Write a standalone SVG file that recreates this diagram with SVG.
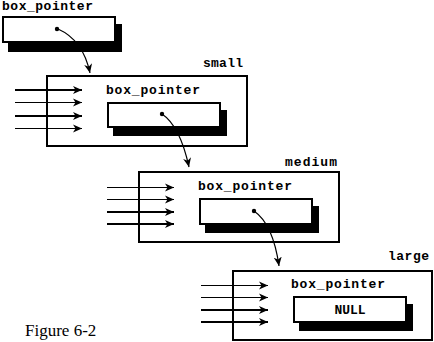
<svg xmlns="http://www.w3.org/2000/svg" width="434" height="342" viewBox="0 0 434 342">
<style>
.lbl{font-family:"Liberation Mono","DejaVu Sans Mono",monospace;font-weight:bold;font-size:13px;fill:#000}
.cont{fill:#fff;stroke:#000;stroke-width:2}
.box{fill:#fff;stroke:#000;stroke-width:2}
.sh{fill:#000}
.thin{stroke:#000;stroke-width:1;fill:none;marker-end:url(#ah)}
.thick{stroke:#000;stroke-width:2;fill:none;marker-end:url(#ah)}
.cur{stroke:#000;stroke-width:1.2;fill:none;marker-end:url(#ah)}
</style>
<defs>
<marker id="ah" markerUnits="userSpaceOnUse" markerWidth="11" markerHeight="9" refX="9" refY="4.5" orient="auto">
<path d="M0,0.5 L9,4.5 L0,8.5 L2.5,4.5 z" fill="#000"/>
</marker>
</defs>
<rect width="434" height="342" fill="#fff"/>
<g id="top">
<text class="lbl" x="2" y="10" font-size="12" textLength="91">box_pointer</text>
<rect class="sh" x="8" y="24" width="114" height="28"/>
<rect class="box" x="3" y="17" width="112" height="25"/>
<circle cx="57" cy="29" r="2.2"/>
</g>
<g id="small">
<text class="lbl" x="203" y="67" textLength="40">small</text>
<rect class="cont" x="47" y="76" width="200" height="70"/>
<text class="lbl" x="106" y="94" textLength="94">box_pointer</text>
<rect class="sh" x="113" y="110" width="114" height="26"/>
<rect class="box" x="108" y="103" width="112" height="24"/>
<circle cx="162" cy="114" r="2.2"/>
</g>
<g id="medium">
<text class="lbl" x="285" y="166" textLength="52">medium</text>
<rect class="cont" x="139" y="172" width="200" height="70"/>
<text class="lbl" x="198" y="190" textLength="94">box_pointer</text>
<rect class="sh" x="205" y="206" width="114" height="27"/>
<rect class="box" x="200" y="199" width="112" height="25"/>
<circle cx="254" cy="211" r="2.2"/>
</g>
<g id="large">
<text class="lbl" x="388" y="260" textLength="41">large</text>
<rect class="cont" x="233" y="271" width="199" height="69"/>
<text class="lbl" x="291" y="288" textLength="94">box_pointer</text>
<rect class="sh" x="299" y="304" width="114" height="27"/>
<rect class="box" x="294" y="297" width="112" height="25"/>
<text class="lbl" x="350" y="314" text-anchor="middle">NULL</text>
</g>
<g id="connectors">
<path class="cur" d="M58,29 Q83,40 90,73"/>
<path class="cur" d="M162,114 Q180,126 189,167"/>
<path class="cur" d="M254,211 Q273,224 279,266"/>
<line class="thick" x1="15" y1="90" x2="82" y2="90"/>
<line class="thin" x1="15" y1="102.5" x2="82" y2="102.5"/>
<line class="thick" x1="15" y1="116" x2="82" y2="116"/>
<line class="thin" x1="15" y1="128.5" x2="82" y2="128.5"/>
<line class="thin" x1="107" y1="187.5" x2="174" y2="187.5"/>
<line class="thin" x1="107" y1="199.5" x2="174" y2="199.5"/>
<line class="thick" x1="107" y1="212" x2="174" y2="212"/>
<line class="thick" x1="107" y1="224" x2="174" y2="224"/>
<line class="thin" x1="201" y1="285.5" x2="268" y2="285.5"/>
<line class="thin" x1="201" y1="297.5" x2="268" y2="297.5"/>
<line class="thick" x1="201" y1="310" x2="268" y2="310"/>
<line class="thick" x1="201" y1="322" x2="268" y2="322"/>
</g>
<text x="25" y="336" font-family="Liberation Serif, serif" font-size="17" fill="#000">Figure 6-2</text>
</svg>
